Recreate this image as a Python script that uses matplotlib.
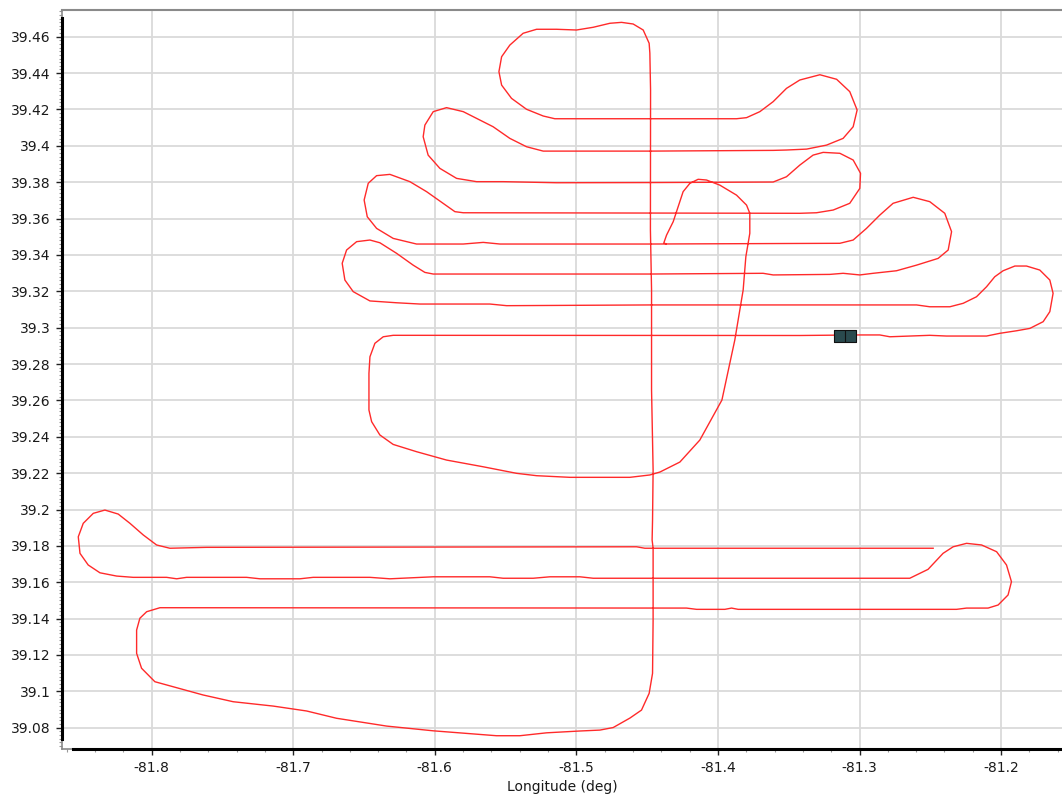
import numpy as np
import matplotlib
matplotlib.use("Agg")
import matplotlib.pyplot as plt
from matplotlib.path import Path
from matplotlib.ticker import MultipleLocator, FuncFormatter

# Track from the hook near the field, through the northern legs, up to the
# top of the long north-south leg
north_lon = [-81.4368, -81.4382, -81.4363, -81.4316, -81.4281, -81.4246, -81.4198, -81.4140,
             -81.4081, -81.3987, -81.3869, -81.3798, -81.3775, -81.3775, -81.3803, -81.3822,
             -81.3881, -81.3972, -81.4128, -81.4269, -81.4410, -81.4481, -81.4622, -81.5046,
             -81.5281, -81.5422, -81.5658, -81.5917, -81.6129, -81.6294, -81.6388, -81.6446,
             -81.6465, -81.6465, -81.6458, -81.6423, -81.6364, -81.6294, -81.4481, -81.3422,
             -81.3021, -81.2857, -81.2786, -81.2504, -81.2386, -81.2103, -81.2009, -81.1891,
             -81.1797, -81.1703, -81.1656, -81.1633, -81.1656, -81.1727, -81.1821, -81.1903,
             -81.1986, -81.2045, -81.2103, -81.2174, -81.2268, -81.2362, -81.2504, -81.2597,
             -81.4481, -81.5493, -81.5611, -81.6105, -81.6270, -81.6458, -81.6576, -81.6635,
             -81.6654, -81.6623, -81.6552, -81.6458, -81.6388, -81.6270, -81.6153, -81.6070,
             -81.6011, -81.4481, -81.3681, -81.3610, -81.3210, -81.3116, -81.2998, -81.2904,
             -81.2739, -81.2597, -81.2445, -81.2374, -81.2350, -81.2398, -81.2504, -81.2621,
             -81.2763, -81.2857, -81.2951, -81.3045, -81.3139, -81.4481, -81.5540, -81.5658,
             -81.5799, -81.6129, -81.6294, -81.6411, -81.6477, -81.6499, -81.6470, -81.6411,
             -81.6317, -81.6176, -81.6058, -81.5941, -81.5858, -81.5799, -81.4481, -81.3422,
             -81.3304, -81.3186, -81.3069, -81.2998, -81.2993, -81.3045, -81.3139, -81.3257,
             -81.3328, -81.3422, -81.3516, -81.3610, -81.4481, -81.5140, -81.5517, -81.5705,
             -81.5846, -81.5964, -81.6047, -81.6082, -81.6070, -81.6011, -81.5917, -81.5799,
             -81.5705, -81.5588, -81.5470, -81.5352, -81.5234, -81.4481, -81.3610, -81.3516,
             -81.3374, -81.3233, -81.3116, -81.3045, -81.3017, -81.3069, -81.3162, -81.3280,
             -81.3422, -81.3516, -81.3610, -81.3704, -81.3798, -81.3869, -81.4481, -81.5152,
             -81.5234, -81.5352, -81.5458, -81.5528, -81.5547, -81.5528, -81.5470, -81.5376,
             -81.5281, -81.5140, -81.4999, -81.4881, -81.4763, -81.4681, -81.4599, -81.4528,
             -81.4486, -81.4481]
north_lat = [39.3460, 39.3467, 39.3509, 39.3583, 39.3665, 39.3748, 39.3794, 39.3816,
             39.3812, 39.3784, 39.3729, 39.3674, 39.3629, 39.3519, 39.3390, 39.3207,
             39.2932, 39.2602, 39.2382, 39.2261, 39.2206, 39.2190, 39.2177, 39.2177,
             39.2186, 39.2199, 39.2235, 39.2272, 39.2318, 39.2358, 39.2410, 39.2483,
             39.2547, 39.2749, 39.2840, 39.2914, 39.2950, 39.2958, 39.2957, 39.2957,
             39.2960, 39.2960, 39.2950, 39.2958, 39.2954, 39.2954, 39.2969, 39.2983,
             39.2996, 39.3033, 39.3088, 39.3189, 39.3262, 39.3317, 39.3339, 39.3339,
             39.3313, 39.3280, 39.3225, 39.3170, 39.3134, 39.3115, 39.3115, 39.3125,
             39.3125, 39.3121, 39.3130, 39.3130, 39.3137, 39.3147, 39.3198, 39.3262,
             39.3354, 39.3427, 39.3473, 39.3482, 39.3467, 39.3409, 39.3344, 39.3304,
             39.3295, 39.3295, 39.3299, 39.3290, 39.3293, 39.3299, 39.3290, 39.3299,
             39.3313, 39.3344, 39.3381, 39.3427, 39.3528, 39.3629, 39.3693, 39.3717,
             39.3684, 39.3619, 39.3546, 39.3482, 39.3464, 39.3460, 39.3460, 39.3469,
             39.3460, 39.3460, 39.3491, 39.3546, 39.3610, 39.3702, 39.3794, 39.3836,
             39.3843, 39.3803, 39.3748, 39.3684, 39.3638, 39.3632, 39.3630, 39.3629,
             39.3632, 39.3647, 39.3684, 39.3766, 39.3849, 39.3922, 39.3959, 39.3964,
             39.3949, 39.3894, 39.3830, 39.3801, 39.3798, 39.3797, 39.3803, 39.3803,
             39.3821, 39.3876, 39.3949, 39.4050, 39.4114, 39.4188, 39.4210, 39.4188,
             39.4151, 39.4105, 39.4041, 39.3995, 39.3971, 39.3971, 39.3975, 39.3977,
             39.3982, 39.4004, 39.4041, 39.4105, 39.4197, 39.4298, 39.4366, 39.4391,
             39.4362, 39.4316, 39.4243, 39.4188, 39.4155, 39.4149, 39.4149, 39.4149,
             39.4164, 39.4201, 39.4261, 39.4334, 39.4408, 39.4490, 39.4554, 39.4619,
             39.4641, 39.4641, 39.4637, 39.4652, 39.4674, 39.4679, 39.4670, 39.4637,
             39.4564, 39.4510]

# Long leg south, then the three southern legs
south_lon = [-81.4476, -81.4477, -81.4469, -81.4469, -81.4458, -81.4462, -81.4465, -81.4458,
             -81.4458, -81.4462, -81.4486, -81.4540, -81.4622, -81.4740, -81.4834, -81.4975,
             -81.5210, -81.5399, -81.5564, -81.6011, -81.6340, -81.6694, -81.6905, -81.7000,
             -81.7141, -81.7424, -81.7636, -81.7847, -81.7977, -81.8071, -81.8106, -81.8106,
             -81.8083, -81.8035, -81.7941, -81.4834, -81.4222, -81.4151, -81.3951, -81.3904,
             -81.3857, -81.2315, -81.2244, -81.2092, -81.2021, -81.1951, -81.1927, -81.1962,
             -81.2032, -81.2138, -81.2244, -81.2339, -81.2410, -81.2516, -81.2645, -81.4458,
             -81.4881, -81.4975, -81.5187, -81.5305, -81.5517, -81.5611, -81.6011, -81.6317,
             -81.6458, -81.6859, -81.6953, -81.7235, -81.7329, -81.7753, -81.7823, -81.7894,
             -81.8130, -81.8247, -81.8365, -81.8448, -81.8506, -81.8518, -81.8483, -81.8412,
             -81.8330, -81.8236, -81.8153, -81.8059, -81.7965, -81.7871, -81.7612, -81.4575,
             -81.4516, -81.2480]
south_lat = [39.4307, 39.3537, 39.3207, 39.2657, 39.2217, 39.1942, 39.1832, 39.1787,
             39.1392, 39.1099, 39.0989, 39.0897, 39.0853, 39.0801, 39.0787, 39.0782,
             39.0772, 39.0756, 39.0756, 39.0783, 39.0809, 39.0852, 39.0892, 39.0903,
             39.0919, 39.0943, 39.0980, 39.1025, 39.1053, 39.1127, 39.1209, 39.1337,
             39.1402, 39.1438, 39.1460, 39.1458, 39.1458, 39.1451, 39.1451, 39.1458,
             39.1451, 39.1451, 39.1458, 39.1458, 39.1475, 39.1530, 39.1603, 39.1695,
             39.1768, 39.1805, 39.1814, 39.1795, 39.1759, 39.1671, 39.1622, 39.1622,
             39.1622, 39.1630, 39.1630, 39.1622, 39.1622, 39.1630, 39.1630, 39.1619,
             39.1627, 39.1627, 39.1619, 39.1619, 39.1627, 39.1627, 39.1619, 39.1627,
             39.1627, 39.1634, 39.1652, 39.1695, 39.1759, 39.1850, 39.1924, 39.1979,
             39.1997, 39.1975, 39.1924, 39.1860, 39.1805, 39.1787, 39.1792, 39.1795,
             39.1787, 39.1787]

# current aircraft position
aircraft_lon = -81.3100
aircraft_lat = 39.2954

x_range = (-81.8633, -81.1570)
y_range = (39.0683, 39.4747)

plt.rcParams['font.family'] = ['DejaVu Sans']
plt.rcParams['axes.unicode_minus'] = False

fig = plt.figure(figsize=(10.62, 7.96), dpi=100)
ax = fig.add_axes([62 / 1062, 1 - 749 / 796, 1000 / 1062, 739 / 796])

track_lon = np.array(north_lon + south_lon)
track_lat = np.array(north_lat + south_lat)
ax.plot(track_lon, track_lat, color='#ff2a2a', lw=1.0, solid_joinstyle='round', zorder=3)

# aircraft icon: a box split in two
icon = Path([(-1, -0.5), (1, -0.5), (1, 0.5), (-1, 0.5), (-1, -0.5), (0, -0.5), (0, 0.5)],
            [Path.MOVETO, Path.LINETO, Path.LINETO, Path.LINETO, Path.CLOSEPOLY,
             Path.MOVETO, Path.LINETO])
ax.plot([aircraft_lon], [aircraft_lat], marker=icon, markersize=16,
        markerfacecolor='#2a4a4e', markeredgecolor='#111111', markeredgewidth=0.8,
        linestyle='none', zorder=4)

ax.set_xlim(*x_range)
ax.set_ylim(*y_range)

fmt = FuncFormatter(lambda v, pos: format(round(v, 4), 'g'))
ax.xaxis.set_major_locator(MultipleLocator(0.1))
ax.xaxis.set_minor_locator(MultipleLocator(0.02))
ax.yaxis.set_major_locator(MultipleLocator(0.02))
ax.yaxis.set_minor_locator(MultipleLocator(0.002))
ax.xaxis.set_major_formatter(fmt)
ax.yaxis.set_major_formatter(fmt)

ax.grid(True, which='major', color='#dadada', lw=1.3, zorder=0)
ax.set_axisbelow(True)

ax.tick_params(which='major', direction='out', length=4, width=1, color='#222222',
               labelsize=10, labelcolor='#1a1a1a')
ax.tick_params(which='minor', direction='out', length=2.5, width=0.8, color='#999999')
ax.tick_params(axis='x', which='major', pad=5)
ax.tick_params(axis='y', which='major', pad=4)

ax.spines['right'].set_visible(False)
ax.spines['top'].set_color('#8a8a8a')
ax.spines['top'].set_linewidth(1.5)
ax.spines['left'].set_color('black')
ax.spines['left'].set_linewidth(2.2)
ax.spines['left'].set_bounds(39.0738, 39.4703)
ax.spines['bottom'].set_color('black')
ax.spines['bottom'].set_linewidth(2.2)
ax.spines['bottom'].set_bounds(-81.8556, x_range[1])
# thin gray frame pieces where the black axis lines stop
ax.plot([0, 0], [0, 1], transform=ax.transAxes, color='#8a8a8a', lw=1.2,
        clip_on=False, zorder=1)
ax.plot([0, 0.02], [0, 0], transform=ax.transAxes, color='#8a8a8a', lw=1.2,
        clip_on=False, zorder=1)

ax.set_xlabel('Longitude (deg)', fontsize=10, color='#1a1a1a', labelpad=3)

fig.savefig('out.png', dpi=100)
